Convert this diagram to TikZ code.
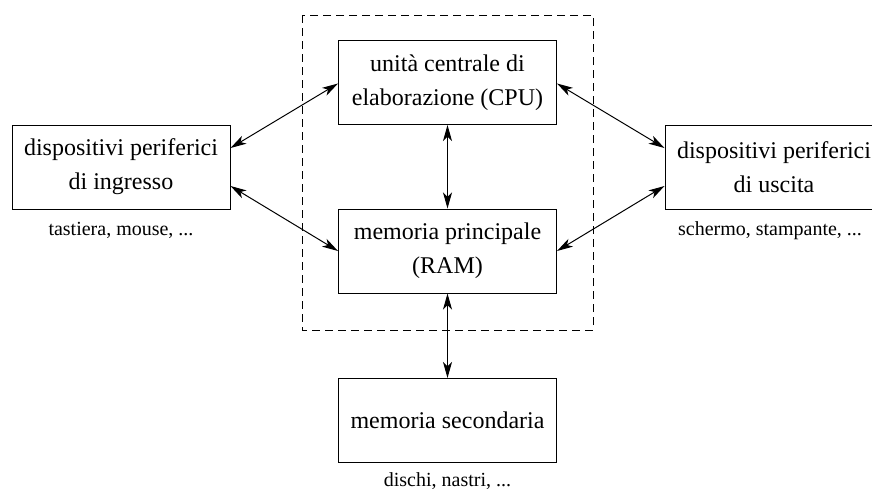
\documentclass[tikz,border=0pt]{standalone}
\usepackage{fontspec}
\setmainfont{Liberation Serif}
\usetikzlibrary{arrows.meta}
\begin{document}
\begin{tikzpicture}[x=0.5pt,y=-0.5pt,
  unitbox/.style={draw,line width=0.5pt,minimum width=109pt,minimum height=42pt,inner sep=0pt,align=center,font=\fontsize{12}{17}\selectfont},
  note/.style={font=\fontsize{10}{12}\selectfont,inner sep=0pt},
  biarrow/.style={line width=0.5pt,{Stealth[length=8pt,width=4.5pt,inset=2.2pt]}-{Stealth[length=8pt,width=4.5pt,inset=2.2pt]}},
  dashbox/.style={line width=0.5pt,dash pattern=on 4pt off 2.5pt}]
\useasboundingbox (0,0) rectangle (872,489);
\draw[dashbox] (302,15) rectangle (593,330);
\node[unitbox] (cpu) at (447.5,82.5) {unità centrale di\\elaborazione (CPU)};
\node[unitbox] (ram) at (447.5,251) {memoria principale\\(RAM)};
\node[unitbox] (sec) at (447.5,420.5) {memoria secondaria};
\node[unitbox] (in) at (121,167) {dispositivi periferici\\di ingresso};
\node[unitbox] (out) at (774,167) {dispositivi periferici\\di uscita};
\node[note] (inlab) at ([yshift=-10.5pt]in.south) {tastiera, mouse, ...};
\node[note] (outlab) at ([yshift=-10.5pt,xshift=-2pt]out.south) {schermo, stampante, ...};
\node[note] (seclab) at ([yshift=-9pt]sec.south) {dischi, nastri, ...};
\draw[biarrow] ([yshift=9.5pt]in.east) -- ([yshift=-0.5pt]cpu.west);
\draw[biarrow] ([yshift=-9.5pt]in.east) -- (ram.west);
\draw[biarrow] ([yshift=-0.5pt]cpu.east) -- ([yshift=9.5pt]out.west);
\draw[biarrow] (ram.east) -- ([yshift=-9.5pt]out.west);
\draw[biarrow] (cpu.south) -- (ram.north);
\draw[biarrow] (ram.south) -- (sec.north);
\end{tikzpicture}
\end{document}
